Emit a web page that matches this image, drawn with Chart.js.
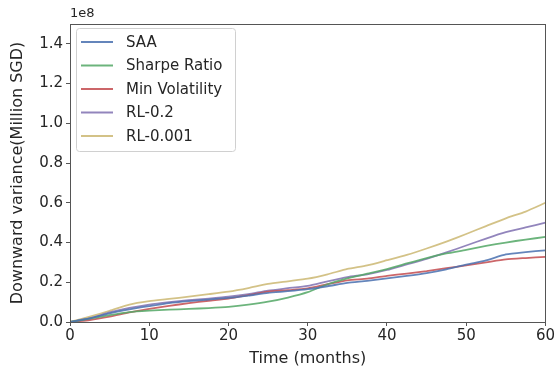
<!DOCTYPE html>
<html>
<head>
<meta charset="utf-8">
<script src="https://cdn.jsdelivr.net/npm/chart.js@4.4.1/dist/chart.umd.min.js"></script>
<style>
    html, body { margin: 0; padding: 0; background: #fff; }
    #wrap { width: 556px; height: 374px; }
</style>
</head>
<body>
<div id="wrap"><canvas id="varianceChart" width="556" height="374"></canvas></div>
<script>
// months sampled along the horizon
const months = [0, 2.5, 5, 7.5, 10, 12.5, 15, 17.5, 20, 22.5, 25, 27.5, 30,
    32.5, 35, 37.5, 40, 42.5, 45, 47.5, 50, 52.5, 55, 57.5, 60];

// downward variance, in units of 1e8
const saa = [0, 0.018, 0.044, 0.064, 0.080, 0.095, 0.105, 0.113, 0.121, 0.133, 0.147, 0.155, 0.165,
    0.180, 0.197, 0.207, 0.220, 0.232, 0.246, 0.265, 0.289, 0.310, 0.340, 0.352, 0.361];
const sharpe = [0, 0.017, 0.035, 0.050, 0.057, 0.062, 0.066, 0.070, 0.076, 0.087, 0.102, 0.123, 0.150,
    0.190, 0.220, 0.243, 0.266, 0.295, 0.322, 0.345, 0.363, 0.383, 0.400, 0.415, 0.428];
const minVol = [0, 0.010, 0.027, 0.048, 0.066, 0.081, 0.095, 0.107, 0.118, 0.135, 0.153, 0.160, 0.169,
    0.190, 0.210, 0.218, 0.232, 0.244, 0.256, 0.271, 0.285, 0.300, 0.315, 0.322, 0.328];
const rl02 = [0, 0.019, 0.048, 0.071, 0.088, 0.100, 0.110, 0.118, 0.127, 0.140, 0.158, 0.170, 0.182,
    0.205, 0.226, 0.240, 0.262, 0.290, 0.318, 0.350, 0.385, 0.420, 0.452, 0.476, 0.500];
const rl0001 = [0, 0.027, 0.056, 0.088, 0.105, 0.116, 0.128, 0.140, 0.153, 0.171, 0.192, 0.205, 0.218,
    0.240, 0.267, 0.285, 0.311, 0.338, 0.370, 0.405, 0.443, 0.483, 0.522, 0.556, 0.600];

const seriesNames = ['SAA', 'Sharpe Ratio', 'Min Volatility', 'RL-0.2', 'RL-0.001'];
const seriesColors = ['#4c72b0', '#55a868', '#c44e52', '#8172b2', '#ccb974'];
const xTicks = [0, 10, 20, 30, 40, 50, 60];

const FONT = "'DejaVu Sans', sans-serif";

function toPoints(values) {
    return values.map((v, i) => ({ x: months[i], y: v }));
}

// frame, exponent label and in-plot legend
const extrasPlugin = {
    id: 'extras',
    afterDraw(chart) {
        const ctx = chart.ctx;
        const a = chart.chartArea;
        ctx.save();
        ctx.strokeStyle = '#555';
        ctx.lineWidth = 1;
        ctx.strokeRect(Math.round(a.left) + 0.5, Math.round(a.top) + 0.5,
            Math.round(a.right - a.left), Math.round(a.bottom - a.top));

        ctx.fillStyle = '#262626';
        ctx.font = '13px ' + FONT;
        ctx.textBaseline = 'bottom';
        ctx.textAlign = 'left';
        ctx.fillText('1e8', a.left, a.top - 4);

        // legend box
        const bx = a.left + 6, by = a.top + 4, bw = 159, bh = 123;
        ctx.fillStyle = 'rgba(255,255,255,0.8)';
        ctx.strokeStyle = '#d0d0d0';
        ctx.beginPath();
        ctx.roundRect(bx + 0.5, by + 0.5, bw, bh, 3);
        ctx.fill();
        ctx.stroke();

        ctx.font = '15px ' + FONT;
        ctx.textBaseline = 'middle';
        chart.data.datasets.forEach((ds, i) => {
            const y = by + 14 + i * 23.5;
            ctx.strokeStyle = ds.borderColor;
            ctx.lineWidth = 2;
            ctx.beginPath();
            ctx.moveTo(bx + 5, y);
            ctx.lineTo(bx + 37, y);
            ctx.stroke();
            ctx.fillStyle = '#262626';
            ctx.fillText(ds.label, bx + 50, y + 1);
        });
        ctx.restore();
    }
};

const datasets = [saa, sharpe, minVol, rl02, rl0001].map((vals, i) => ({
    label: seriesNames[i],
    data: toPoints(vals),
    borderColor: seriesColors[i] + 'dd',
    borderWidth: 1.8,
    pointRadius: 0,
    tension: 0.2,
    fill: false
}));

new Chart(document.getElementById('varianceChart'), {
    type: 'line',
    data: { datasets: datasets },
    plugins: [extrasPlugin],
    options: {
        responsive: false,
        animation: false,
        layout: { padding: { top: 24, right: 10, left: 0, bottom: 0 } },
        plugins: {
            legend: { display: false },
            tooltip: { enabled: false }
        },
        scales: {
            x: {
                type: 'linear',
                min: 0,
                max: 60,
                afterFit(scale) { scale.height = 52; },
                afterBuildTicks(scale) { scale.ticks = xTicks.map(v => ({ value: v })); },
                grid: { display: true, drawOnChartArea: false, tickLength: 4, color: '#555' },
                border: { color: '#555' },
                ticks: { color: '#262626', font: { family: FONT, size: 15 }, padding: 1, maxRotation: 0 },
                title: { display: true, text: 'Time (months)', color: '#262626',
                    font: { family: FONT, size: 16 }, padding: { top: 0, bottom: 6 } }
            },
            y: {
                min: 0,
                max: 1.5,
                afterFit(scale) { scale.width = 70; },
                grid: { display: true, drawOnChartArea: false, tickLength: 4, color: '#555' },
                border: { color: '#555' },
                ticks: {
                    stepSize: 0.2,
                    includeBounds: false,
                    color: '#262626',
                    font: { family: FONT, size: 15 },
                    padding: 3,
                    callback: v => v.toFixed(1)
                },
                title: { display: true, text: 'Downward variance(Million SGD)', color: '#262626',
                    font: { family: FONT, size: 16 }, padding: { top: 8, bottom: 0 } }
            }
        }
    }
});
</script>
</body>
</html>
